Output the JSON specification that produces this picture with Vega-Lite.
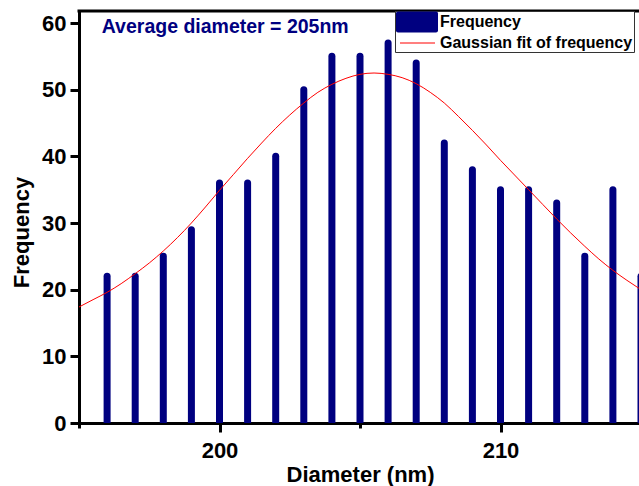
{
  "$schema": "https://vega.github.io/schema/vega-lite/v6.json",
  "width": 562,
  "height": 412,
  "autosize": {"type": "none"},
  "padding": {"left": 79, "top": 11, "right": -2, "bottom": 63},
  "background": "white",
  "config": {
    "view": {"stroke": null},
    "font": "Liberation Sans",
    "axis": {
      "domainColor": "black",
      "domainWidth": 3,
      "domainCap": "square",
      "tickColor": "black",
      "tickWidth": 3,
      "labelColor": "black",
      "labelFont": "Liberation Sans",
      "labelFontWeight": "bold",
      "labelFontSize": 22,
      "titleFont": "Liberation Sans",
      "titleFontWeight": "bold",
      "titleFontSize": 22,
      "titleColor": "black",
      "grid": false,
      "labelFlush": false,
      "labelOverlap": false,
      "labelBound": false
    },
    "legend": {
      "orient": "none",
      "legendX": 316,
      "legendY": 0,
      "padding": 1,
      "strokeColor": "#333333",
      "fillColor": "white",
      "symbolSize": 400,
      "symbolStrokeWidth": 0,
      "symbolOpacity": 1,
      "labelFont": "Liberation Sans",
      "labelFontSize": 16,
      "labelFontWeight": "bold",
      "labelColor": "black",
      "labelOffset": 24,
      "rowPadding": 0,
      "labelLimit": 400
    }
  },
  "datasets": {
    "bars": [
      {"d": 196, "f": 22}, {"d": 197, "f": 22}, {"d": 198, "f": 25}, {"d": 199, "f": 29},
      {"d": 200, "f": 36}, {"d": 201, "f": 36}, {"d": 202, "f": 40}, {"d": 203, "f": 50},
      {"d": 204, "f": 55}, {"d": 205, "f": 55}, {"d": 206, "f": 57}, {"d": 207, "f": 54},
      {"d": 208, "f": 42}, {"d": 209, "f": 38}, {"d": 210, "f": 35}, {"d": 211, "f": 35},
      {"d": 212, "f": 33}, {"d": 213, "f": 25}, {"d": 214, "f": 35}, {"d": 215, "f": 22}
    ],
    "curve": [
      {"d": 195, "f": 17.4}, {"d": 195.5, "f": 18.5}, {"d": 196, "f": 19.6}, {"d": 196.5, "f": 20.9},
      {"d": 197, "f": 22.4}, {"d": 197.5, "f": 24.0}, {"d": 198, "f": 25.8}, {"d": 198.5, "f": 27.8},
      {"d": 199, "f": 30.0}, {"d": 199.5, "f": 32.4}, {"d": 200, "f": 34.9}, {"d": 200.5, "f": 37.3},
      {"d": 201, "f": 39.7}, {"d": 201.5, "f": 42.0}, {"d": 202, "f": 44.2}, {"d": 202.5, "f": 46.2},
      {"d": 203, "f": 48.0}, {"d": 203.5, "f": 49.6}, {"d": 204, "f": 50.8}, {"d": 204.5, "f": 51.7},
      {"d": 205, "f": 52.3}, {"d": 205.5, "f": 52.5}, {"d": 206, "f": 52.3}, {"d": 206.5, "f": 51.8},
      {"d": 207, "f": 50.9}, {"d": 207.5, "f": 49.6}, {"d": 208, "f": 48.0}, {"d": 208.5, "f": 46.0},
      {"d": 209, "f": 43.9}, {"d": 209.5, "f": 41.7}, {"d": 210, "f": 39.4}, {"d": 210.5, "f": 37.2},
      {"d": 211, "f": 35.0}, {"d": 211.5, "f": 32.8}, {"d": 212, "f": 30.6}, {"d": 212.5, "f": 28.5},
      {"d": 213, "f": 26.5}, {"d": 213.5, "f": 24.6}, {"d": 214, "f": 22.9}, {"d": 214.5, "f": 21.4},
      {"d": 215, "f": 20.0}
    ],
    "note": [{"d": 195.81, "f": 58.5, "label": "Average diameter = 205nm"}],
    "frame": [{"x1": 195, "x2": 215, "y": 61.8}]
  },
  "layer": [
    {
      "data": {"name": "bars"},
      "mark": {"type": "rule", "strokeWidth": 7, "strokeCap": "round", "color": "#000080", "clip": true},
      "encoding": {
        "x": {
          "field": "d",
          "type": "quantitative",
          "scale": {"domain": [195, 215], "nice": false, "zero": false},
          "axis": {
            "values": [195, 200, 205, 210, 215],
            "labelExpr": "datum.value % 10 === 0 ? datum.label : ''",
            "tickSize": {"condition": {"test": "datum.value % 10 === 0", "value": 9}, "value": 5},
            "labelPadding": 8,
            "title": "Diameter (nm)",
            "titleY": 58,
            "titleBaseline": "alphabetic"
          }
        },
        "y": {
          "field": "f",
          "type": "quantitative",
          "scale": {"domain": [0, 61.8], "nice": false},
          "axis": {
            "values": [0, 5, 10, 15, 20, 25, 30, 35, 40, 45, 50, 55, 60],
            "labelExpr": "datum.value % 10 === 0 ? datum.label : ''",
            "tickSize": {"condition": {"test": "datum.value % 10 === 0", "value": 9}, "value": 5},
            "labelPadding": 4,
            "title": "Frequency",
            "titleX": -51,
            "titleY": 221,
            "titleAngle": 270,
            "titleAlign": "center",
            "titleBaseline": "alphabetic"
          }
        },
        "y2": {"datum": 0}
      }
    },
    {
      "data": {"name": "curve"},
      "mark": {"type": "line", "strokeWidth": 1, "color": "#ff0000", "interpolate": "monotone", "clip": true},
      "encoding": {
        "x": {"field": "d", "type": "quantitative"},
        "y": {"field": "f", "type": "quantitative"}
      }
    },
    {
      "data": {"name": "frame"},
      "mark": {"type": "rule", "strokeWidth": 3, "color": "#000000", "strokeCap": "square"},
      "encoding": {
        "x": {"field": "x1", "type": "quantitative"},
        "x2": {"field": "x2"},
        "y": {"field": "y", "type": "quantitative"}
      }
    },
    {
      "data": {"name": "note"},
      "mark": {"type": "text", "align": "left", "baseline": "alphabetic", "font": "Liberation Sans", "fontSize": 19.5, "fontWeight": "bold", "color": "#000080"},
      "encoding": {
        "x": {"field": "d", "type": "quantitative"},
        "y": {"field": "f", "type": "quantitative"},
        "text": {"field": "label"}
      }
    },
    {
      "data": {"name": "bars"},
      "transform": [{"filter": "false"}],
      "mark": {"type": "point", "filled": true, "opacity": 1, "size": 400, "strokeWidth": 0},
      "encoding": {
        "color": {
          "field": "s",
          "type": "nominal",
          "scale": {"domain": ["Frequency", "Gaussian fit of frequency"], "range": ["#000080", "#ff0000"]},
          "legend": {"title": null}
        },
        "shape": {
          "field": "s",
          "type": "nominal",
          "scale": {
            "domain": ["Frequency", "Gaussian fit of frequency"],
            "range": [
              "M-0.8,-1.05H3.0A0.2,0.2 0 0 1 3.2,-0.85V0.85A0.2,0.2 0 0 1 3.0,1.05H-0.8A0.2,0.2 0 0 1 -1,0.85V-0.85A0.2,0.2 0 0 1 -0.8,-1.05Z",
              "M-0.6,-0.05H2.9V0.05H-0.6Z"
            ]
          },
          "legend": {"title": null}
        }
      }
    }
  ]
}
